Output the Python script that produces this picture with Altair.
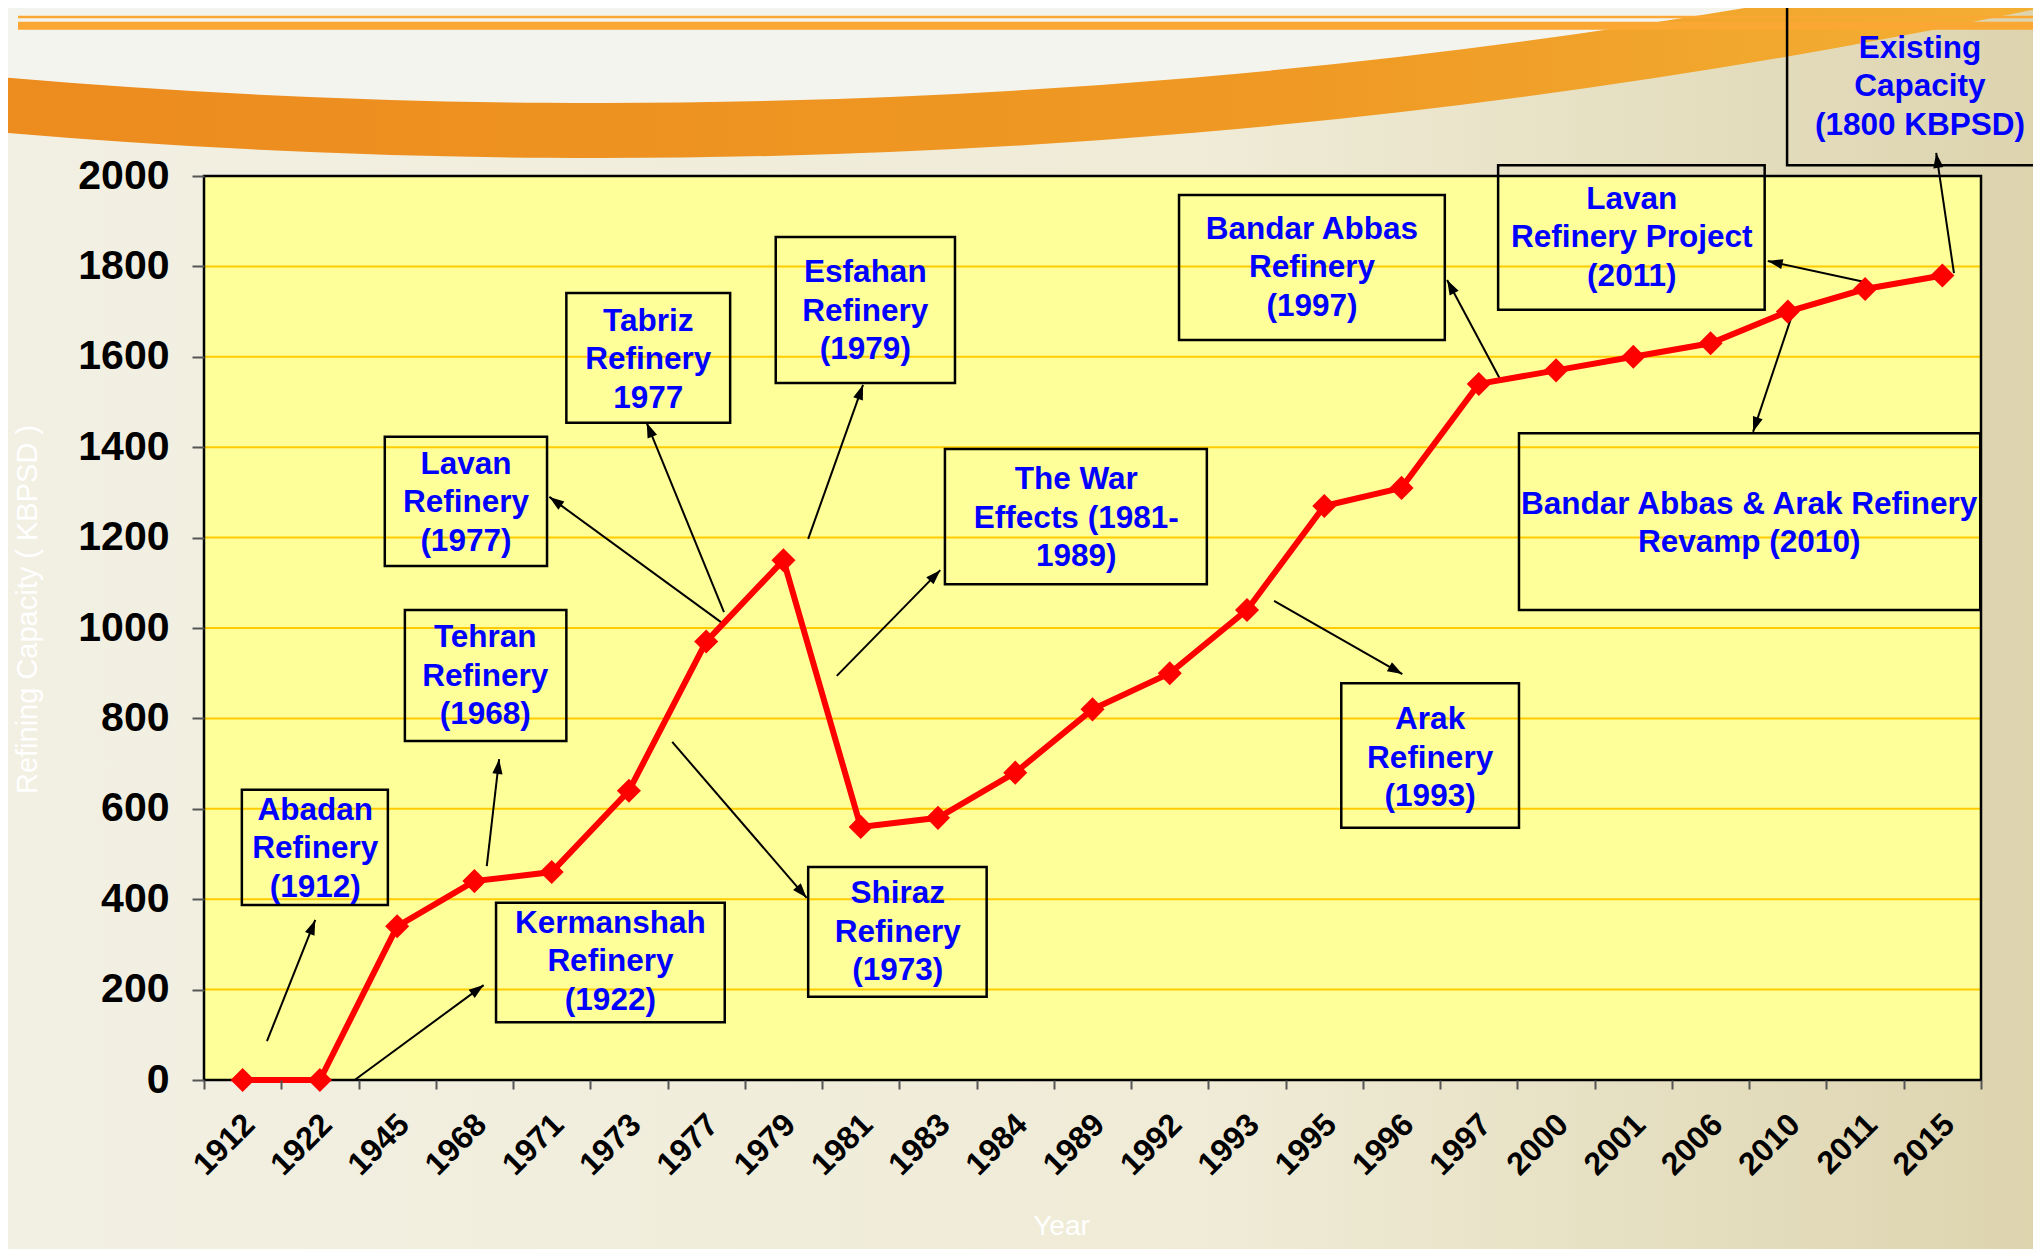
import math
import altair as alt
import pandas as pd

# ---------------- data ----------------
years = ["1912", "1922", "1945", "1968", "1971", "1973", "1977", "1979", "1981", "1983",
         "1984", "1989", "1992", "1993", "1995", "1996", "1997", "2000", "2001", "2006",
         "2010", "2011", "2015"]
capacity = [0, 0, 340, 440, 460, 640, 970, 1150, 560, 580,
            680, 820, 900, 1040, 1270, 1310, 1540, 1570, 1600, 1630,
            1700, 1750, 1780]
y_ticks = [0, 200, 400, 600, 800, 1000, 1200, 1400, 1600, 1800, 2000]
grid_values = [200, 400, 600, 800, 1000, 1200, 1400, 1600, 1800]

box_text = ["Abadan\nRefinery\n(1912)", "Kermanshah\nRefinery\n(1922)", "Tehran\nRefinery\n(1968)",
            "Lavan\nRefinery\n(1977)", "Tabriz\nRefinery\n1977", "Esfahan\nRefinery\n(1979)",
            "The War\nEffects (1981-\n1989)", "Shiraz\nRefinery\n(1973)", "Arak\nRefinery\n(1993)",
            "Bandar Abbas\nRefinery\n(1997)", "Lavan\nRefinery Project\n(2011)",
            "Bandar Abbas & Arak Refinery\nRevamp (2010)", "Existing\nCapacity\n(1800 KBPSD)"]
# box extents in (category index, KBPSD) units
box_x1 = [-0.01, 3.28, 2.10, 1.84, 4.19, 6.90, 9.09, 7.32, 14.22, 12.12, 16.25, 16.52, 19.99]
box_x2 = [1.88, 6.24, 4.19, 3.94, 6.31, 9.22, 12.48, 9.63, 16.52, 15.56, 19.70, 22.49, 23.40]
box_y1 = [387, 128, 750, 1137, 1454, 1542, 1097, 184, 558, 1637, 1704, 1040, 2024]
box_y2 = [642, 392, 1040, 1423, 1741, 1865, 1396, 471, 878, 1958, 2024, 1431, 2376]
# position of the first text line of each box
text_x = [0.94, 4.76, 3.14, 2.89, 5.25, 8.06, 10.79, 8.48, 15.37, 13.84, 17.98, 19.50, 21.71]
text_y = [595, 345, 977, 1361, 1677, 1785, 1327, 411, 796, 1881, 1947, 1272, 2281]

arrow_x1 = [0.315, 1.45, 3.16, 6.24, 6.23, 7.32, 7.69, 5.56, 13.35, 16.29, 21.01, 20.05, 22.15]
arrow_y1 = [86, 0, 473, 1007, 1035, 1197, 894, 748, 1060, 1546, 1765, 1690, 1785]
arrow_x2 = [0.94, 3.12, 3.32, 3.97, 5.23, 8.03, 9.03, 7.30, 15.01, 15.59, 19.74, 19.55, 21.92]
arrow_y2 = [354, 210, 710, 1290, 1454, 1538, 1128, 403, 898, 1770, 1812, 1434, 2051]

# ---------------- layout ----------------
PLOT_W, PLOT_H = 1777, 904
N = len(years)
X_DOMAIN = [-0.5, N - 0.5]
Y_DOMAIN = [0, 2000]

xs = alt.Scale(domain=X_DOMAIN, nice=False, zero=False)
ys = alt.Scale(domain=Y_DOMAIN, nice=False, zero=False)

label_js = "[" + ",".join("'%s'" % y for y in years) + "]"
x_axis = alt.Axis(
    values=[i - 0.5 for i in range(N + 1)],
    labelExpr=label_js + "[round(datum.value + 0.5)] || ''",
    labelAngle=315, labelAlign="right", labelBaseline="middle",
    labelOffset=45, labelPadding=30, labelOverlap=False, labelBound=False, labelFlush=False,
    labelFont="Liberation Sans", labelFontSize=32, labelFontWeight="bold", labelColor="black",
    tickSize=9, tickWidth=2, tickColor="#555555", domain=False, grid=False, zindex=2,
    title="Year", titleColor="white", titleFont="Liberation Sans", titleFontSize=28,
    titleFontWeight="normal", titleX=857, titleY=146, titleAlign="center", titleBaseline="middle",
)
y_axis = alt.Axis(
    values=y_ticks, format="d", labelFont="Liberation Sans", labelFontSize=41, labelFontWeight="bold",
    labelColor="black", labelPadding=23, tickSize=12, tickWidth=2, tickColor="#555555",
    domain=False, grid=False, zindex=2,
    title="Refining Capacity ( KBPSD )", titleColor="white", titleFont="Liberation Sans",
    titleFontSize=29, titleFontWeight="normal", titleAngle=270, titleX=-177, titleY=433,
    titleAlign="center", titleBaseline="middle",
)

series = pd.DataFrame({"idx": list(range(N)), "year": years, "cap": capacity})
boxes = pd.DataFrame({"x1": box_x1, "x2": box_x2, "y1": box_y1, "y2": box_y2,
                      "tx": text_x, "ty": text_y, "label": box_text})

angles = []
for ax1, ay1, ax2, ay2 in zip(arrow_x1, arrow_y1, arrow_x2, arrow_y2):
    dx = (ax2 - ax1) * PLOT_W / N
    dy = -(ay2 - ay1) * PLOT_H / (Y_DOMAIN[1] - Y_DOMAIN[0])
    angles.append(math.degrees(math.atan2(dx, -dy)) % 360)
arrows = pd.DataFrame({"x1": arrow_x1, "y1": arrow_y1, "x2": arrow_x2, "y2": arrow_y2, "ang": angles})
frame = pd.DataFrame({"x1": [X_DOMAIN[0]], "x2": [X_DOMAIN[1]], "y1": [Y_DOMAIN[0]], "y2": [Y_DOMAIN[1]]})
grid = pd.DataFrame({"g": grid_values, "x1": [X_DOMAIN[0]] * len(grid_values),
                     "x2": [X_DOMAIN[1]] * len(grid_values)})
one = pd.DataFrame({"k": [0]})


def X(field):
    return alt.X(field, scale=xs, axis=x_axis)


def Y(field):
    return alt.Y(field, scale=ys, axis=y_axis)


# ---------------- decoration (slide background) ----------------
page = alt.Chart(one).mark_rect(
    color=alt.LinearGradient(
        gradient="linear", x1=0, x2=1, y1=0, y2=0,
        stops=[alt.GradientStop(color="#F2F0E3", offset=0),
               alt.GradientStop(color="#EFEBD6", offset=0.6),
               alt.GradientStop(color="#DDD4AE", offset=1)],
    )
).encode(x=alt.value(-200), x2=alt.value(1835), y=alt.value(-170), y2=alt.value(1080))

pale = alt.Chart(one).mark_arc(
    radius=6947, radius2=0, theta=math.pi - 0.5, theta2=math.pi + 0.5, color="#F4F4EF"
).encode(x=alt.value(396), y=alt.value(-7018))

swoosh = alt.Chart(one).mark_arc(
    radius=7000, radius2=6945, theta=math.pi - 0.27, theta2=math.pi + 0.1,
    color=alt.LinearGradient(
        gradient="linear", x1=0, x2=1, y1=0, y2=0,
        stops=[alt.GradientStop(color="#EC8A1E", offset=0),
               alt.GradientStop(color="#EF9A24", offset=0.55),
               alt.GradientStop(color="#F6BC3C", offset=1)],
    ),
).encode(x=alt.value(396), y=alt.value(-7018))

line_thin = alt.Chart(one).mark_rule(color="#FBA733", strokeWidth=2.7).encode(
    x=alt.value(-186), x2=alt.value(1830), y=alt.value(-159))
line_thick = alt.Chart(one).mark_rule(color="#FBA733", strokeWidth=8).encode(
    x=alt.value(-186), x2=alt.value(1830), y=alt.value(-150.3))

# ---------------- chart layers ----------------
plot_fill = alt.Chart(frame).mark_rect(color="#FFFF99").encode(
    x=X("x1:Q"), x2="x2:Q", y=Y("y1:Q"), y2="y2:Q")

grid_lines = alt.Chart(grid).mark_rule(color="#FFCC00", strokeWidth=2).encode(
    x=X("x1:Q"), x2="x2:Q", y=Y("g:Q"))

border = alt.Chart(frame).mark_rect(fillOpacity=0, stroke="black", strokeWidth=2.5).encode(
    x=X("x1:Q"), x2="x2:Q", y=Y("y1:Q"), y2="y2:Q")

box_rects = alt.Chart(boxes).mark_rect(fillOpacity=0, stroke="black", strokeWidth=2.5).encode(
    x=X("x1:Q"), x2="x2:Q", y=Y("y1:Q"), y2="y2:Q")

arrow_lines = alt.Chart(arrows).mark_rule(color="black", strokeWidth=2).encode(
    x=X("x1:Q"), x2="x2:Q", y=Y("y1:Q"), y2="y2:Q")
arrow_heads = alt.Chart(arrows).mark_point(
    shape="M0,0L0.6,1.75L-0.6,1.75Z", filled=True, size=289, color="black", opacity=1
).encode(x=X("x2:Q"), y=Y("y2:Q"), angle=alt.Angle("ang:Q", scale=None))

red_line = alt.Chart(series).mark_line(color="#FF0000", strokeWidth=6).encode(
    x=X("idx:Q"), y=Y("cap:Q"))
diamonds = alt.Chart(series).mark_point(
    shape="diamond", filled=True, size=580, color="#FF0000", opacity=1
).encode(x=X("idx:Q"), y=Y("cap:Q"))

labels = alt.Chart(boxes).mark_text(
    font="Liberation Sans", fontSize=31.5, fontWeight="bold", color="#0000FF",
    lineBreak="\n", lineHeight=38.4, align="center", baseline="middle",
).encode(x=X("tx:Q"), y=Y("ty:Q"), text="label:N")

chart = alt.layer(
    page, pale, swoosh, line_thin, line_thick, plot_fill, grid_lines, border,
    box_rects, arrow_lines, arrow_heads, red_line, diamonds, labels,
).properties(
    width=PLOT_W, height=PLOT_H,
    padding={"left": 196, "top": 168, "right": 52, "bottom": 169},
    autosize=alt.AutoSizeParams(type="none"),
    background="#F0EDDA",
).configure_view(stroke="transparent")

chart.save("out.html", embed_options={"renderer": "svg", "actions": False})
